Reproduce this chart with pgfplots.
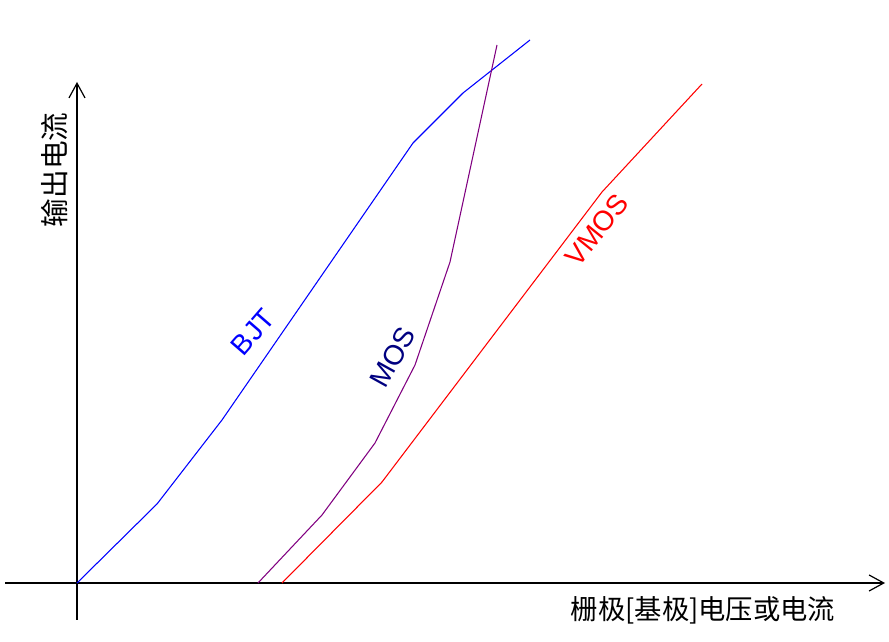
\documentclass[border=0pt]{standalone}
\usepackage{fontspec}
\setmainfont{Liberation Sans}
\newfontfamily\cjk{Noto Sans CJK SC}
\usepackage{pgfplots}
\pgfplotsset{compat=1.18}
\usetikzlibrary{arrows.meta}
\definecolor{mospurple}{RGB}{128,0,128}
\definecolor{mosnavy}{RGB}{0,0,128}
\begin{document}
\begin{tikzpicture}
\begin{axis}[
  x=0.75pt, y=0.75pt,
  xmin=-77, xmax=812, ymin=-59, ymax=583,
  hide axis, clip=false,
]
\path (axis cs:-77,-59) rectangle (axis cs:812,583);
% axes
\addplot[black, line width=1.1pt, -{Straight Barb[length=11pt,width=12pt,line width=0.9pt]}] coordinates {(-72,0) (808,0)};
\addplot[black, line width=1.1pt, -{Straight Barb[length=11pt,width=12pt,line width=0.9pt]}] coordinates {(0,-37) (0,501)};
% BJT
\addplot[blue, line width=0.8pt] coordinates {(0,0) (80,79) (145,163) (336,440) (386,490) (453,543)};
% MOS
\addplot[mospurple, line width=0.8pt] coordinates {(181,0) (245,68) (298,140) (338,218) (373,321) (420,538)};
% VMOS
\addplot[red, line width=0.8pt] coordinates {(205,0) (305,101) (525,391) (625,499)};
\node[blue, rotate=49, inner sep=0pt, font=\fontsize{21}{21}\selectfont] at (axis cs:176,251) {BJT};
\node[mosnavy, rotate=61, inner sep=0pt, font=\fontsize{21}{21}\selectfont] at (axis cs:316,226) {MOS};
\node[red, rotate=51, inner sep=0pt, font=\fontsize{21}{21}\selectfont] at (axis cs:520,353) {VMOS};
\node[inner sep=0pt, font=\cjk\fontsize{20.5}{20.5}\selectfont] at (axis cs:626,-27) {栅极[基极]电压或电流};
\node[rotate=90, inner sep=0pt, font=\cjk\fontsize{21.5}{21.5}\selectfont] at (axis cs:-22,413) {输出电流};
\end{axis}
\end{tikzpicture}
\end{document}
